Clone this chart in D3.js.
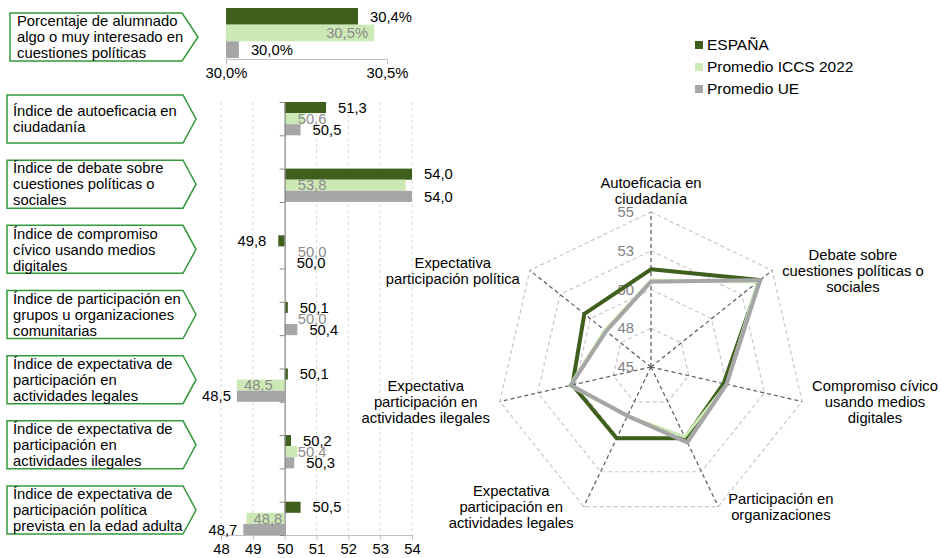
<!DOCTYPE html>
<html><head><meta charset="utf-8">
<script src="https://cdn.jsdelivr.net/npm/d3@7"></script>
<style>
body{margin:0;background:#fff}
text{font-family:"Liberation Sans",Arial,sans-serif;}
</style>
</head><body>
<svg id="c" width="941" height="558"></svg>
<script>
// ---------- DATA ----------
const topLabel = ["Porcentaje de alumnado","algo o muy interesado en","cuestiones políticas"];
const topValues = [30.41, 30.46, 30.04];   // ESPAÑA, ICCS, UE (%)
const topTicks = [30.0, 30.5];

const boxLabels = [
  ["Índice de autoeficacia en","ciudadanía"],
  ["Índice de debate sobre","cuestiones políticas o","sociales"],
  ["Índice de compromiso","cívico usando medios","digitales"],
  ["Índice de participación en","grupos u organizaciones","comunitarias"],
  ["Índice de expectativa de","participación en","actividades legales"],
  ["Índice de expectativa de","participación en","actividades ilegales"],
  ["Índice de expectativa de","participación política","prevista en la edad adulta"]
];
const radarLabels = [
  ["Autoeficacia en","ciudadanía"],
  ["Debate sobre","cuestiones políticas o","sociales"],
  ["Compromiso cívico","usando medios","digitales"],
  ["Participación en","organizaciones"],
  ["Expectativa","participación en","actividades legales"],
  ["Expectativa","participación en","actividades ilegales"],
  ["Expectativa","participación política"]
];
const seriesNames = ["ESPAÑA","Promedio ICCS 2022","Promedio UE"];
const espana = [51.3, 54.0, 49.8, 50.1, 50.1, 50.2, 50.5];
const iccs   = [50.6, 53.8, 50.0, 50.0, 48.5, 50.4, 48.8];
const ue     = [50.5, 54.0, 50.0, 50.4, 48.5, 50.3, 48.7];
const barTicks = [48, 49, 50, 51, 52, 53, 54];
const radarTicks = [45, 47.5, 50, 52.5, 55];

// ---------- STYLE ----------
const colors = ["#3f5f1c", "#cce8b5", "#a6a6a6"];
const labelColors = ["#000", "#8c8c8c", "#000"];
const FS = "14.8px";
const series = [espana, iccs, ue];

const svg = d3.select("#c");
const loc = d3.formatLocale({decimal: ",", thousands: ".", grouping: [3], currency: ["", "€"]});
const f1 = loc.format(".1f");
const fPct = v => f1(v) + "%";

// ---------- LABEL BOXES ----------
function boxPath(x0, yTop, w, h, tip) {
  return `M${x0},${yTop}H${x0 + w}L${x0 + w + tip},${yTop + h / 2}L${x0 + w},${yTop + h}H${x0}Z`;
}
function drawBox(x0, cy, w, tip, lines, tx) {
  const h = 48;
  svg.append("path").attr("d", boxPath(x0, cy - h / 2, w, h, tip))
    .attr("fill", "#fff").attr("stroke", "#33993a").attr("stroke-width", 1.5);
  const t = svg.append("text").attr("font-size", FS).attr("fill", "#000");
  lines.forEach((l, k) => {
    t.append("tspan").attr("x", tx).attr("y", cy + (k - (lines.length - 1) / 2) * 16).attr("dy", "0.35em").text(l);
  });
}
drawBox(10, 37, 172, 16, topLabel, 17);
const boxY = d3.scalePoint(d3.range(boxLabels.length), [119, 510]);
boxLabels.forEach((l, i) => drawBox(7, boxY(i), 176, 13, l, 13));

// ---------- TOP PERCENT CHART ----------
const xt = d3.scaleLinear([30.0, 30.5], [226, 387]);
const yt = d3.scaleBand(d3.range(3), [8, 58]);
topValues.forEach((v, s) => {
  svg.append("rect").attr("x", xt(30)).attr("y", yt(s)).attr("width", xt(v) - xt(30))
    .attr("height", yt.bandwidth()).attr("fill", colors[s]);
});
const topAx = svg.append("g").attr("transform", "translate(0,59)")
  .call(d3.axisBottom(xt).tickValues(topTicks).tickSize(5).tickSizeOuter(0).tickFormat(fPct));
topAx.select(".domain").attr("stroke", "#bfbfbf");
topAx.selectAll(".tick line").attr("stroke", "#bfbfbf");
topAx.selectAll("text").attr("font-size", FS).attr("fill", "#000").attr("font-family", '"Liberation Sans",Arial,sans-serif');
topValues.forEach((v, s) => {
  const t = svg.append("text").attr("font-size", FS).attr("fill", labelColors[s])
    .attr("y", yt(s) + yt.bandwidth() / 2).attr("dy", "0.35em").text(fPct(v));
  if (s === 1) t.attr("x", xt(v) - 6).attr("text-anchor", "end");
  else t.attr("x", xt(v) + 12);
});

// ---------- INDEX BAR CHART ----------
const x = d3.scaleLinear([48, 54], [221, 412]);
const yBand = d3.scaleBand(d3.range(boxLabels.length * 2 - 1), [102, 535]);
const sub = d3.scaleBand(d3.range(3), [0, yBand.bandwidth()]);

// grid
svg.append("g").selectAll("line").data(barTicks.filter(t => t !== 50)).join("line")
  .attr("x1", d => x(d)).attr("x2", d => x(d)).attr("y1", 102).attr("y2", 535)
  .attr("stroke", "#d9d9d9").attr("stroke-dasharray", "3,3");

// bars
series.forEach((arr, s) => {
  svg.append("g").selectAll("rect").data(arr).join("rect")
    .attr("x", d => Math.min(x(d), x(50)))
    .attr("width", d => Math.abs(x(d) - x(50)))
    .attr("y", (d, i) => yBand(2 * i) + sub(s))
    .attr("height", sub.bandwidth())
    .attr("fill", colors[s]);
});

// bottom axis
const bAx = svg.append("g").attr("transform", "translate(0,535)")
  .call(d3.axisBottom(x).tickValues(barTicks).tickSize(5).tickSizeOuter(0).tickFormat(d3.format("d")));
bAx.select(".domain").attr("stroke", "#bfbfbf");
bAx.selectAll(".tick line").attr("stroke", "#bfbfbf");
bAx.selectAll("text").attr("font-size", FS).attr("fill", "#000").attr("font-family", '"Liberation Sans",Arial,sans-serif');

// vertical axis at 50 with category boundary ticks
const yb = d3.scaleLinear([0, yBand.domain().length], [102, 535]);
const vAx = svg.append("g").attr("transform", `translate(${x(50)},0)`)
  .call(d3.axisLeft(yb).tickValues(d3.range(yBand.domain().length + 1)).tickSize(5).tickSizeOuter(0).tickFormat(""));
vAx.select(".domain").attr("stroke", "#868686").attr("stroke-width", 1.2);
vAx.selectAll(".tick line").attr("stroke", "#868686");

// value labels
series.forEach((arr, s) => {
  svg.append("g").selectAll("text").data(arr).join("text")
    .attr("font-size", FS).attr("fill", labelColors[s])
    .attr("y", (d, i) => yBand(2 * i) + sub(s) + sub.bandwidth() / 2).attr("dy", "0.35em")
    .attr("x", d => {
      if (s === 1) return d >= 50 ? x(50) + 13 : x(d) + 7;
      if (d >= 50) return x(d) + 12;
      return x(d) - (s === 0 ? 12 : 6);
    })
    .attr("text-anchor", d => (s !== 1 && d < 50) ? "end" : "start")
    .text(d => f1(d));
});

// ---------- RADAR ----------
const cx = 651, cy = 367, R = 155;
const rs = d3.scaleLinear([45, 55], [0, R]);
const n = radarLabels.length;
const ang = i => i * 2 * Math.PI / n;
const pt = (i, v) => [cx + rs(v) * Math.sin(ang(i)), cy - rs(v) * Math.cos(ang(i))];

const rg = svg.append("g");
radarTicks.filter(t => t > 45).forEach(t => {
  rg.append("path").attr("d", d3.line().curve(d3.curveLinearClosed)(d3.range(n).map(i => pt(i, t))))
    .attr("fill", "none").attr("stroke", "#c8c8c8").attr("stroke-width", 1.2).attr("stroke-dasharray", "4,3");
});
d3.range(n).forEach(i => {
  const p = pt(i, 55);
  rg.append("line").attr("x1", cx).attr("y1", cy).attr("x2", p[0]).attr("y2", p[1])
    .attr("stroke", "#595959").attr("stroke-width", 1.2).attr("stroke-dasharray", "4,3");
});
// tick labels
radarTicks.forEach(t => {
  rg.append("text").attr("x", cx - 17).attr("y", cy - rs(t)).attr("dy", "0.35em")
    .attr("text-anchor", "end").attr("font-size", FS).attr("fill", "#7f7f7f")
    .text(d3.format(".0f")(t));
});
// series lines
const widths = [4, 3, 4];
series.forEach((arr, s) => {
  rg.append("path").attr("d", d3.line().curve(d3.curveLinearClosed)(arr.map((v, i) => pt(i, v))))
    .attr("fill", "none").attr("stroke", colors[s]).attr("stroke-width", widths[s]).attr("stroke-linejoin", "miter");
});
// axis labels
radarLabels.forEach((lines, i) => {
  const v = pt(i, 55);
  const t = rg.append("text").attr("font-size", FS).attr("fill", "#000").attr("text-anchor", "middle");
  const sp = 16;
  let cyL;
  if (i === 0) cyL = v[1] - 13 - (lines.length - 1) * sp / 2;
  else cyL = v[1];
  const spans = lines.map((l, k) => t.append("tspan").attr("y", cyL + (k - (lines.length - 1) / 2) * sp).attr("dy", "0.35em").text(l));
  let maxW = 0;
  spans.forEach(s => { maxW = Math.max(maxW, s.node().getComputedTextLength()); });
  let xc;
  const sa = Math.sin(ang(i));
  if (i === 0) xc = v[0];
  else if (sa > 0) xc = v[0] + 10 + maxW / 2;
  else xc = v[0] - 10 - maxW / 2;
  spans.forEach(s => s.attr("x", xc));
});

// ---------- LEGEND ----------
const lg = svg.append("g");
seriesNames.forEach((name, s) => {
  const yy = 45 + s * 22;
  lg.append("rect").attr("x", 695).attr("y", yy - 4).attr("width", 8).attr("height", 8).attr("fill", colors[s]);
  lg.append("text").attr("x", 707).attr("y", yy).attr("dy", "0.35em").attr("font-size", "15.5px").attr("fill", "#000").text(name);
});
</script>
</body></html>
